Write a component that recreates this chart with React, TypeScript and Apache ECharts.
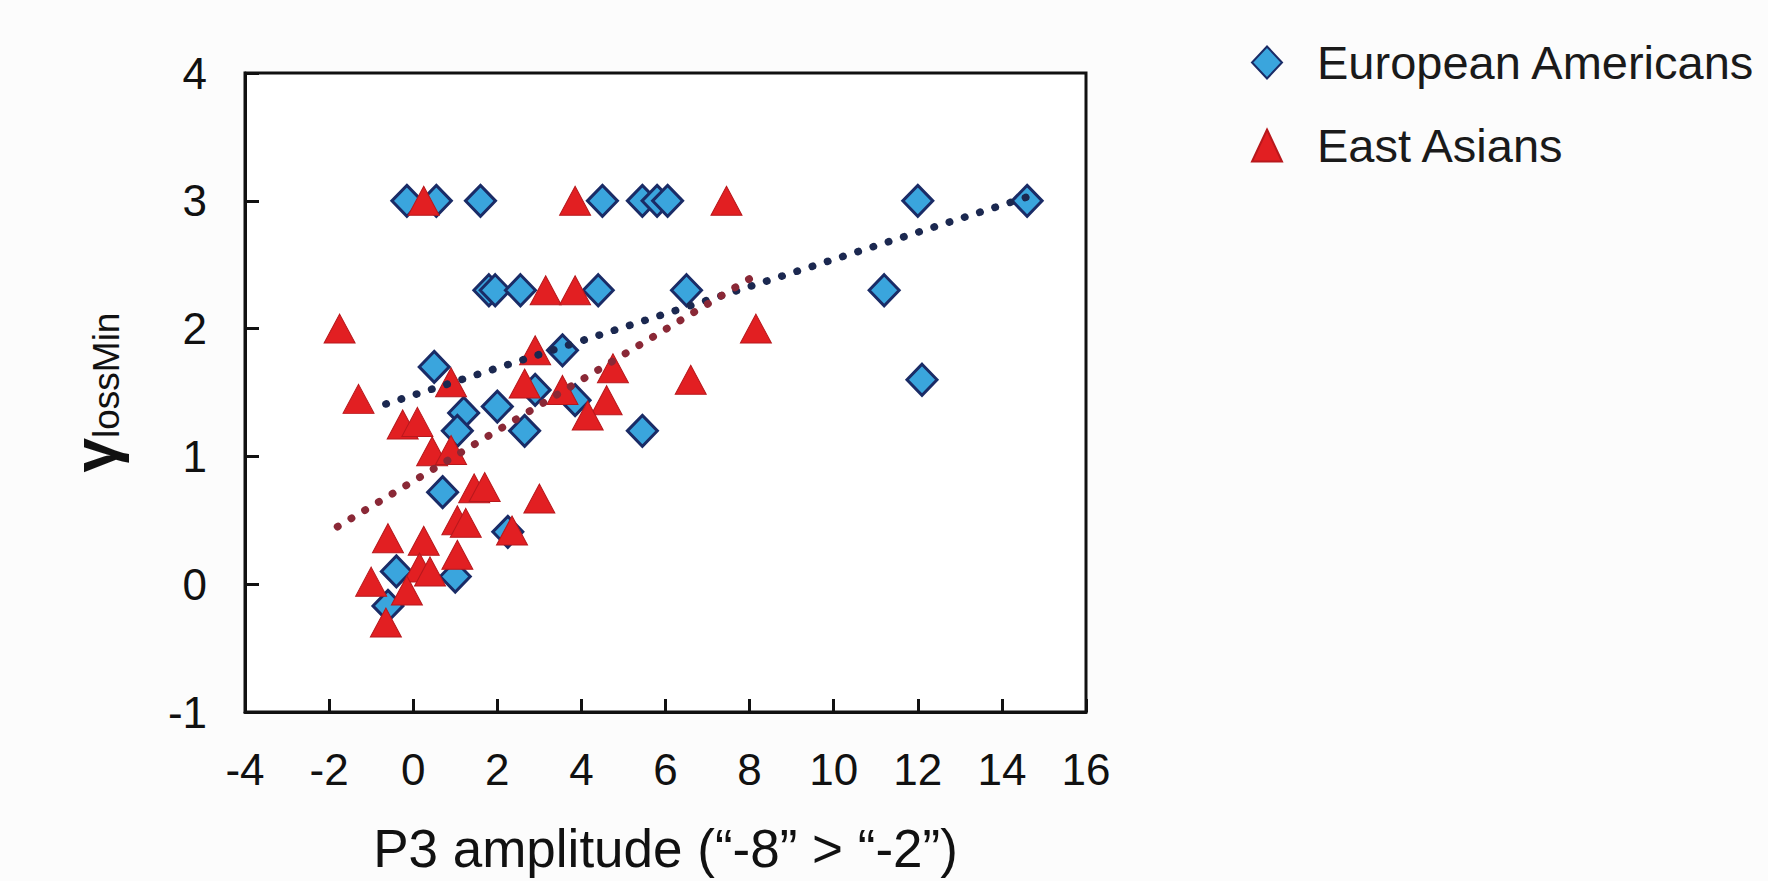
import React, { useEffect, useRef } from "react";
import * as echarts from "echarts";

// European Americans (diamonds)
const euroX = [-0.15, 0.55, 1.6, 4.5, 5.45, 5.8, 6.05, 12.0, 14.6, 1.8, 1.95, 2.55, 4.4, 6.5, 11.2, 12.1, 0.5, 3.55, 2.9, 3.85, 2.0, 1.2, 1.05, 2.65, 5.45, 0.7, 2.25, -0.4, 1.0, -0.6];
const euroY = [3, 3, 3, 3, 3, 3, 3, 3, 3, 2.3, 2.3, 2.3, 2.3, 2.3, 2.3, 1.6, 1.7, 1.83, 1.52, 1.44, 1.39, 1.34, 1.2, 1.2, 1.2, 0.72, 0.41, 0.1, 0.06, -0.17];

// East Asians (triangles)
const asianX = [0.25, 3.85, 7.45, 3.15, 3.85, 8.15, -1.75, 6.6, -1.3, 0.9, 2.9, 2.65, 3.55, 4.75, 4.6, 4.15, -0.25, 0.1, 0.45, 0.9, 1.45, 1.7, 3.0, 1.05, 1.25, 2.35, -0.6, 0.25, 1.05, 0.15, 0.4, -1.0, -0.15, -0.65];
const asianY = [3, 3, 3, 2.3, 2.3, 2.0, 2.0, 1.6, 1.45, 1.58, 1.83, 1.57, 1.52, 1.69, 1.44, 1.32, 1.25, 1.27, 1.04, 1.05, 0.75, 0.76, 0.67, 0.5, 0.48, 0.42, 0.36, 0.34, 0.23, 0.13, 0.1, 0.02, -0.05, -0.3];

// Linear trend lines (end points)
const euroTrendX = [-0.65, 14.6];
const euroTrendY = [1.41, 3.03];
const asianTrendX = [-1.8, 8.1];
const asianTrendY = [0.45, 2.41];

// Axes
const xTicks = { min: -4, max: 16, interval: 2 };
const yTicks = { min: -1, max: 4, interval: 1 };

const seriesNames = ["European Americans", "East Asians"];

const zip = (xs: number[], ys: number[]) => xs.map((x, i) => [x, ys[i]]);

const FONT = "Liberation Sans, Arial, Helvetica, sans-serif";

export default function App() {
  const ref = useRef<HTMLDivElement>(null);

  useEffect(() => {
    if (!ref.current) return;
    const chart = echarts.init(ref.current, null, { renderer: "svg" });
    chart.setOption({
      animation: false,
      backgroundColor: "#fcfcfc",
      textStyle: { fontFamily: FONT },
      grid: {
        left: 245,
        right: 682,
        top: 73,
        bottom: 169,
        show: true,
        borderColor: "#111",
        borderWidth: 3,
        backgroundColor: "#ffffff",
      },
      legend: {
        data: seriesNames,
        orient: "vertical",
        left: 1246,
        top: 34,
        itemWidth: 30,
        itemHeight: 32,
        itemGap: 36,
        textStyle: {
          fontSize: 47,
          color: "#1a1a1a",
          fontFamily: FONT,
          padding: [0, 0, 0, 30],
        },
      },
      xAxis: {
        type: "value",
        min: xTicks.min,
        max: xTicks.max,
        interval: xTicks.interval,
        splitLine: { show: false },
        axisLine: { show: true, onZero: false, lineStyle: { color: "#111", width: 3 } },
        axisTick: { show: true, inside: true, length: 13, lineStyle: { color: "#111", width: 3 } },
        axisLabel: { fontSize: 44, color: "#111", margin: 35, fontFamily: FONT },
        name: "P3 amplitude (\u201c-8\u201d > \u201c-2\u201d)",
        nameLocation: "middle",
        nameGap: 110,
        nameTextStyle: { fontSize: 53, color: "#111", fontFamily: FONT },
      },
      yAxis: {
        type: "value",
        min: yTicks.min,
        max: yTicks.max,
        interval: yTicks.interval,
        splitLine: { show: false },
        axisLine: { show: true, onZero: false, lineStyle: { color: "#111", width: 3 } },
        axisTick: { show: true, inside: true, length: 14, lineStyle: { color: "#111", width: 3 } },
        axisLabel: { fontSize: 44, color: "#111", margin: 38, fontFamily: FONT },
        name: "{g|\u03b3}{s|lossMin}",
        nameLocation: "middle",
        nameRotate: 90,
        nameGap: 120,
        nameTextStyle: {
          color: "#111",
          fontFamily: FONT,
          rich: {
            g: { fontSize: 62, fontWeight: "bold", color: "#111", fontFamily: FONT },
            s: { fontSize: 37, color: "#111", fontFamily: FONT, padding: [24, 0, 0, 0] },
          },
        },
      },
      series: [
        {
          name: "trendEuro",
          type: "line",
          data: zip(euroTrendX, euroTrendY),
          symbol: "none",
          silent: true,
          lineStyle: { color: "#1b2850", width: 7.5, type: [0.5, 15.5], cap: "round" },
          z: 3,
        },
        {
          name: "trendAsian",
          type: "line",
          data: zip(asianTrendX, asianTrendY),
          symbol: "none",
          silent: true,
          lineStyle: { color: "#8a2836", width: 7.5, type: [0.5, 15.5], cap: "round" },
          z: 3,
        },
        {
          name: seriesNames[0],
          type: "scatter",
          symbol: "diamond",
          symbolSize: [30, 31],
          data: zip(euroX, euroY),
          itemStyle: { color: "#3aa5dd", borderColor: "#1a2b66", borderWidth: 3, opacity: 1 },
          z: 2,
        },
        {
          name: seriesNames[1],
          type: "scatter",
          symbol: "triangle",
          symbolSize: [31, 29],
          data: zip(asianX, asianY),
          itemStyle: { color: "#e21f22", borderColor: "#b8181c", borderWidth: 1, opacity: 1 },
          z: 2,
        },
      ],
    });
    return () => chart.dispose();
  }, []);

  return (
    <div
      ref={ref}
      style={{ position: "absolute", left: 0, top: 0, width: 1768, height: 881 }}
    />
  );
}
